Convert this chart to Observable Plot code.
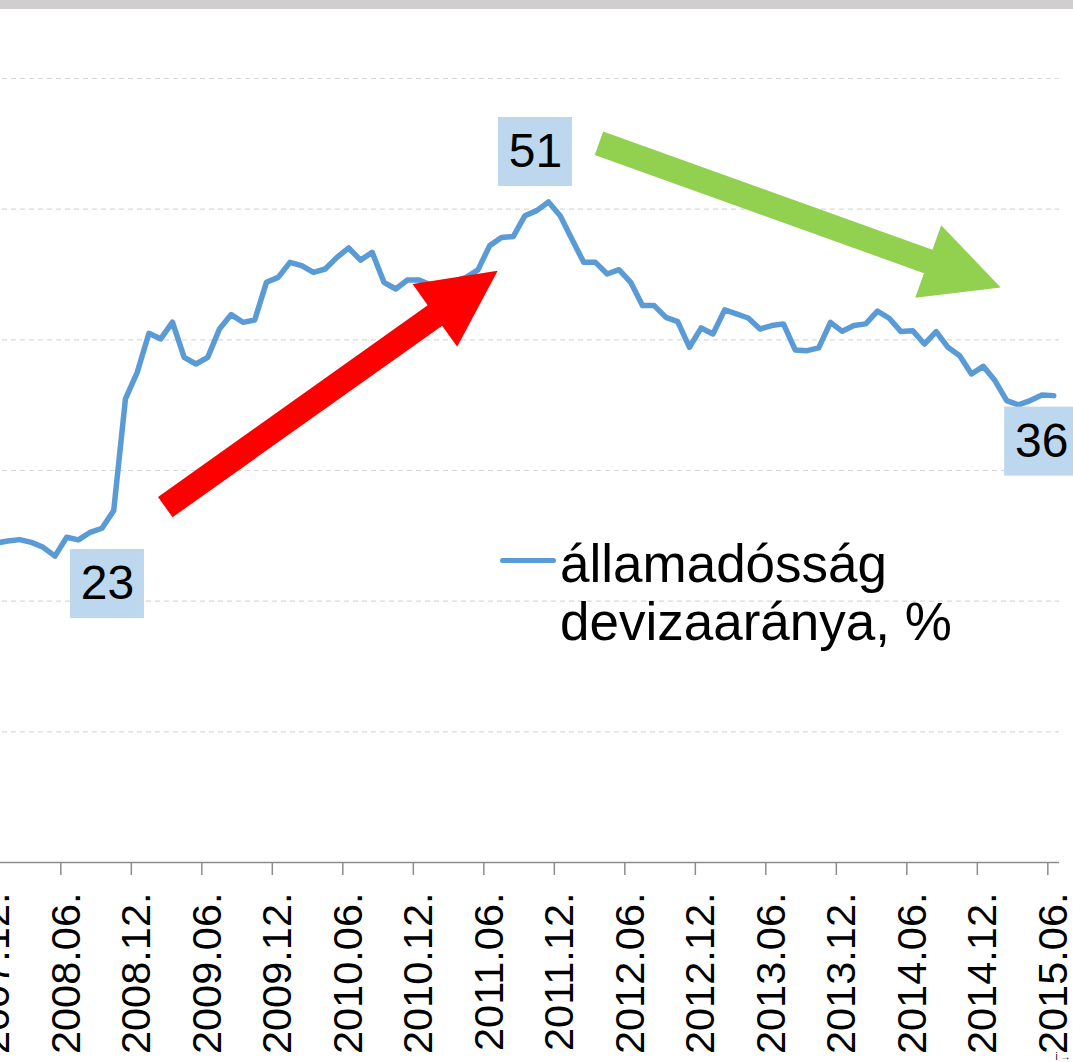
<!DOCTYPE html>
<html>
<head>
<meta charset="utf-8">
<script src="https://cdn.jsdelivr.net/npm/d3@7"></script>
<script src="https://cdn.jsdelivr.net/npm/@observablehq/plot@0.6"></script>
<style>
  html, body { margin: 0; padding: 0; background: #ffffff; }
  #wrap { position: relative; width: 1073px; height: 1062px; overflow: hidden;
          font-family: "Liberation Sans", Arial, sans-serif; }
  #topbar { position: absolute; left: 0; top: 0; width: 1073px; height: 9px; background: #d0cece; }
  #legend { position: absolute; left: 500px; top: 535px; font-size: 53px; line-height: 58px; color: #000; }
  #legend .swatch { position: absolute; left: 0px; top: 23px; width: 56px; height: 5px;
                    border-radius: 2.5px; background: #5b9bd5; }
  #legend .txt { position: absolute; left: 60px; top: 0; white-space: nowrap; }
</style>
</head>
<body>
<div id="wrap">
  <div id="chart"></div>
  <div id="topbar"></div>
  <div id="legend"><div class="swatch"></div><div class="txt">államadósság<br>devizaaránya, %</div></div>
</div>
<script>
// Categories (months)
const months = [
  "2007.12.",
  "2008.01.","2008.02.","2008.03.","2008.04.","2008.05.","2008.06.","2008.07.","2008.08.","2008.09.","2008.10.","2008.11.","2008.12.",
  "2009.01.","2009.02.","2009.03.","2009.04.","2009.05.","2009.06.","2009.07.","2009.08.","2009.09.","2009.10.","2009.11.","2009.12.",
  "2010.01.","2010.02.","2010.03.","2010.04.","2010.05.","2010.06.","2010.07.","2010.08.","2010.09.","2010.10.","2010.11.","2010.12.",
  "2011.01.","2011.02.","2011.03.","2011.04.","2011.05.","2011.06.","2011.07.","2011.08.","2011.09.","2011.10.","2011.11.","2011.12.",
  "2012.01.","2012.02.","2012.03.","2012.04.","2012.05.","2012.06.","2012.07.","2012.08.","2012.09.","2012.10.","2012.11.","2012.12.",
  "2013.01.","2013.02.","2013.03.","2013.04.","2013.05.","2013.06.","2013.07.","2013.08.","2013.09.","2013.10.","2013.11.","2013.12.",
  "2014.01.","2014.02.","2014.03.","2014.04.","2014.05.","2014.06.","2014.07.","2014.08.","2014.09.","2014.10.","2014.11.","2014.12.",
  "2015.01.","2015.02.","2015.03.","2015.04.","2015.05.","2015.06."
];

// Series: államadósság devizaaránya, %
const fxShare = [
  24.45,
  24.60, 24.71, 24.50, 24.12, 23.45, 24.89, 24.69, 25.27, 25.58, 26.93, 35.48, 37.51,
  40.50, 40.07, 41.35, 38.66, 38.15, 38.66, 40.83, 41.93, 41.34, 41.52, 44.40, 44.78,
  45.93, 45.68, 45.16, 45.42, 46.31, 47.03, 46.10, 46.70, 44.40, 43.89, 44.58, 44.58,
  44.20, 44.30, 44.50, 44.78, 45.35, 47.21, 47.84, 47.90, 49.50, 49.89, 50.55, 49.50,
  47.70, 45.93, 45.93, 45.04, 45.37, 44.40, 42.62, 42.62, 41.72, 41.39, 39.43, 40.91,
  40.45, 42.29, 41.98, 41.67, 40.83, 41.09, 41.22, 39.23, 39.17, 39.38, 41.34, 40.65,
  41.09, 41.22, 42.20, 41.65, 40.63, 40.70, 39.68, 40.63, 39.43, 38.79, 37.39, 37.97,
  36.88, 35.35, 35.02, 35.35, 35.78, 35.73
];

// Tick labels on the category axis
const tickLabels = ["2007.12.","2008.06.","2008.12.","2009.06.","2009.12.","2010.06.","2010.12.","2011.06.",
                    "2011.12.","2012.06.","2012.12.","2013.06.","2013.12.","2014.06.","2014.12.","2015.06."];

// Gridline values
const gridValues = [10, 20, 30, 40, 50, 60];

// Annotation arrows in data space: [month index, value]
const arrowRed   = { from: [14.43, 27.16], to: [42.72, 45.24] };
const arrowGreen = { from: [51.34, 55.01], to: [85.53, 43.97] };

const series = months.map((m, i) => ({ month: m, i, value: fxShare[i] }));
const tickIdx = tickLabels.map(l => months.indexOf(l));
const tickBounds = tickIdx.map(i => i - 0.5);

let iMin = 0, iMax = 0;
series.forEach((d, i) => { if (d.value < series[iMin].value) iMin = i; if (d.value > series[iMax].value) iMax = i; });
const iLast = series.length - 1;

const FONT = '"Liberation Sans", Arial, sans-serif';

function arrowMark(arrow, color) {
  return (index, scales) => {
    const sx = scales.x, sy = scales.y;
    const tx = sx(arrow.from[0]), ty = sy(arrow.from[1]);
    const px = sx(arrow.to[0]), py = sy(arrow.to[1]);
    const len = Math.hypot(px - tx, py - ty);
    const ux = (px - tx) / len, uy = (py - ty) / len;
    const nx = -uy, ny = ux;
    const w = 25 / 2, W = 77 / 2, L = 77;
    const bx = px - L * ux, by = py - L * uy;
    const pts = [
      [tx + nx * w, ty + ny * w], [bx + nx * w, by + ny * w], [bx + nx * W, by + ny * W],
      [px, py],
      [bx - nx * W, by - ny * W], [bx - nx * w, by - ny * w], [tx - nx * w, ty - ny * w]
    ];
    const p = document.createElementNS("http://www.w3.org/2000/svg", "polygon");
    p.setAttribute("points", pts.map(q => q.join(",")).join(" "));
    p.setAttribute("fill", color);
    return p;
  };
}

function dataLabel(i, dx, dy) {
  const d = [series[i]];
  return [
    Plot.rect(d, { x1: "i", x2: "i", y1: "value", y2: "value",
      insetLeft: -37, insetRight: -37, insetTop: -34.5, insetBottom: -34.5,
      dx, dy, fill: "#bdd7ee" }),
    Plot.text(d, { x: "i", y: "value", text: d => String(Math.round(d.value)),
      dx, dy, fontSize: 48, fill: "#000", textAnchor: "middle", lineAnchor: "middle", fontFamily: FONT })
  ];
}

const chart = Plot.plot({
  width: 1073,
  height: 1062,
  marginTop: 78,
  marginBottom: 200,
  marginLeft: 0,
  marginRight: 0,
  x: { domain: [0, 90], range: [-4.3, 1053.2] },
  y: { domain: [0, 60], axis: null },
  style: { fontFamily: FONT, background: "transparent", overflow: "visible" },
  marks: [
    Plot.ruleY(gridValues, { x1: -1, x2: 90.5, stroke: "#d9d9d9", strokeWidth: 1.2, strokeDasharray: "5,4" }),
    Plot.ruleY([0], { x1: -1, x2: 90.5, stroke: "#8c8c8c", strokeWidth: 1.5 }),
    Plot.axisX(tickBounds, { tickSize: 13, tickFormat: () => "", stroke: "#8c8c8c", strokeWidth: 1.5 }),
    Plot.axisX(tickIdx, { tickSize: 0, tickPadding: 30, tickRotate: -90,
      tickFormat: i => months[i], fontSize: 41.5, fill: "#000", fontFamily: FONT, label: null }),
    Plot.line(series, { x: "i", y: "value", stroke: "#5b9bd5", strokeWidth: 5.5,
      strokeLinejoin: "round", strokeLinecap: "round" }),
    arrowMark(arrowRed, "#ff0000"),
    arrowMark(arrowGreen, "#92d050"),
    ...dataLabel(iMax, -13, -50),
    ...dataLabel(iMin, 52.5, 28),
    ...dataLabel(iLast, -12, 46)
  ]
});
document.getElementById("chart").appendChild(chart);
</script>
</body>
</html>
